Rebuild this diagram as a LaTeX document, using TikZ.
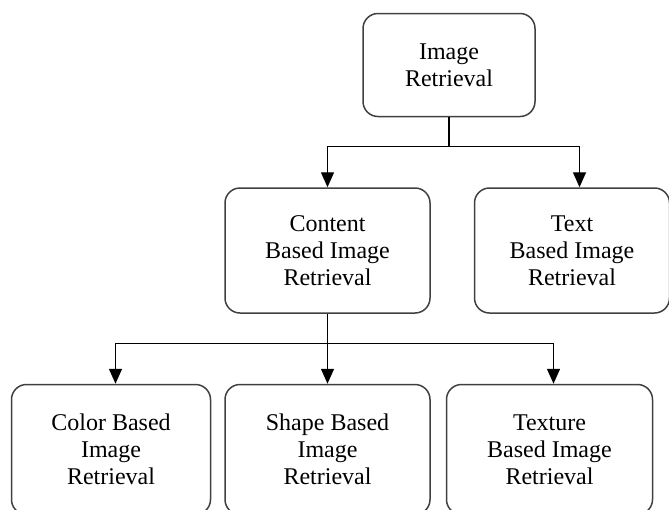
\documentclass[tikz,border=0pt]{standalone}
\usepackage{fontspec}
\setmainfont{Liberation Serif}
\usetikzlibrary{arrows.meta, positioning}

\begin{document}
\begin{tikzpicture}[
    x=0.5pt, y=-0.5pt,
    box/.style={rectangle, rounded corners=7.5pt, draw=black!75, line width=0.75pt, align=center,
        font=\fontsize{12}{13.5}\selectfont, inner sep=2pt},
    link/.style={draw, line width=0.7pt},
    arrow/.style={link, -{Triangle[length=7.5pt, width=6.5pt]}}
]
\useasboundingbox (0,0) rectangle (669,509);

% Tree of retrieval methods
\node[box, minimum width=102.5pt, minimum height=62.5pt] (content) at (327.5,250.5) {Content\\Based Image\\Retrieval};
\node[box, minimum width=86pt, minimum height=51.5pt, above=35pt of content, xshift=60.75pt] (top) {Image\\Retrieval};
\node[box, minimum width=97.5pt, minimum height=62.5pt, right=21.5pt of content] (textbr) {Text\\Based Image\\Retrieval};
\node[box, minimum width=102.5pt, minimum height=65pt, below=35pt of content] (shape) {Shape Based\\Image\\Retrieval};
\node[box, minimum width=99.5pt, minimum height=65pt, left=6.5pt of shape] (color) {Color Based\\Image\\Retrieval};
\node[box, minimum width=103pt, minimum height=65pt, right=7.5pt of shape] (texture) {Texture\\Based Image\\Retrieval};

% Branch points
\coordinate[below=14.5pt of top.south] (split1);
\coordinate[below=15pt of content.south] (split2);

% Connections
\draw[link] (top) -- (split1);
\draw[arrow] (split1) -| (content);
\draw[arrow] (split1) -| ([xshift=3.75pt]textbr.north);
\draw[link] (content) -- (split2);
\draw[arrow] (split2) -| ([xshift=2.25pt]color.north);
\draw[arrow] (split2) -- (shape);
\draw[arrow] (split2) -| ([xshift=2pt]texture.north);

\end{tikzpicture}
\end{document}
